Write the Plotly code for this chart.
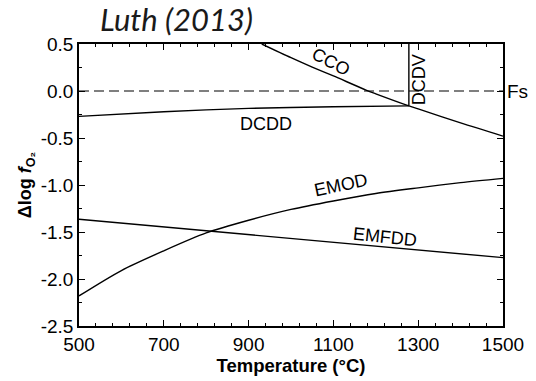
import plotly.graph_objects as go

# Temperature (°C) and Δlog fO2 (relative to FMQ) for each buffer/reaction curve
cco_t = [931, 1000, 1050, 1100, 1177, 1200, 1278, 1300, 1400, 1500]
cco_v = [0.50, 0.355, 0.255, 0.16, 0.01, -0.03, -0.158, -0.19, -0.34, -0.48]

dcdd_t = [500, 700, 900, 1100, 1278]
dcdd_v = [-0.27, -0.22, -0.185, -0.168, -0.158]

dcdv_t = [1278, 1278]
dcdv_v = [-0.158, 0.50]

fs_t = [500, 1500]
fs_v = [0.0, 0.0]

emod_t = [500, 600, 700, 800, 900, 1000, 1100, 1200, 1300, 1400, 1500]
emod_v = [-2.18, -1.91, -1.70, -1.51, -1.375, -1.26, -1.17, -1.09, -1.03, -0.975, -0.93]

emfdd_t = [500, 1500]
emfdd_v = [-1.364, -1.773]

x_ticks = [500, 700, 900, 1100, 1300, 1500]
y_ticks = [0.5, 0.0, -0.5, -1.0, -1.5, -2.0, -2.5]
y_ticktext = ["0.5", "0.0", "-0.5", "-1.0", "-1.5", "-2.0", "-2.5"]

# Curve labels: text, temperature, value, rotation
labels = [
    ("CCO", 1095, 0.31, 27),
    ("DCDV", 1302, 0.115, -90),
    ("DCDD", 941, -0.355, 0),
    ("EMOD", 1118, -1.005, -12),
    ("EMFDD", 1222, -1.55, 6),
]

LINE = dict(color="black", width=1.4)
FONT = "Liberation Sans, Arial, sans-serif"

fig = go.Figure()
for t, v in [(cco_t, cco_v), (dcdd_t, dcdd_v), (emod_t, emod_v)]:
    fig.add_trace(go.Scatter(x=t, y=v, mode="lines",
                             line=dict(LINE, shape="spline", smoothing=0.8),
                             showlegend=False, hoverinfo="skip"))
for t, v in [(dcdv_t, dcdv_v), (emfdd_t, emfdd_v)]:
    fig.add_trace(go.Scatter(x=t, y=v, mode="lines", line=LINE,
                             showlegend=False, hoverinfo="skip"))
fig.add_trace(go.Scatter(x=fs_t, y=fs_v, mode="lines",
                         line=dict(color="black", width=1.2, dash="10px,5px"),
                         showlegend=False, hoverinfo="skip"))

for text, t, v, ang in labels:
    fig.add_annotation(x=t, y=v, text=text, showarrow=False, textangle=ang,
                       font=dict(family=FONT, size=18, color="black"))

fig.add_annotation(x=1500, y=0.0, text="Fs", showarrow=False, xanchor="left",
                   xshift=2, font=dict(family=FONT, size=19, color="black"))

fig.add_annotation(x=0.045, y=1.09, xref="paper", yref="paper",
                   text="<i>Luth (2013)</i>", showarrow=False,
                   xanchor="left", yanchor="middle",
                   font=dict(family="Lato, sans-serif", size=31, color="#1a1a1a"))

axis_common = dict(
    showgrid=False, zeroline=False, showline=True, linecolor="black",
    linewidth=1.5, mirror="ticks", ticks="inside", ticklen=6, tickwidth=1.2,
    tickcolor="black",
    tickfont=dict(family=FONT, size=19, color="black"),
)

fig.update_xaxes(
    range=[500, 1500], tickvals=x_ticks,
    minor=dict(dtick=40, tick0=500, ticks="inside", ticklen=3,
               tickcolor="black", tickwidth=1),
    title=dict(text="<b>Temperature (°C)</b>", standoff=2,
               font=dict(family=FONT, size=18.5, color="black")),
    **axis_common,
)
fig.update_yaxes(
    range=[-2.5, 0.5], tickvals=y_ticks, ticktext=y_ticktext,
    minor=dict(dtick=0.25, tick0=0, ticks="inside", ticklen=3,
               tickcolor="black", tickwidth=1),
    title=dict(text="<b>Δlog <i>f</i><sub>O₂</sub></b>", standoff=4,
               font=dict(family=FONT, size=18, color="black")),
    **axis_common,
)

fig.update_layout(
    width=536, height=381,
    margin=dict(l=79, r=25, t=44, b=53),
    paper_bgcolor="white", plot_bgcolor="white",
)

fig.write_html("out.html")
